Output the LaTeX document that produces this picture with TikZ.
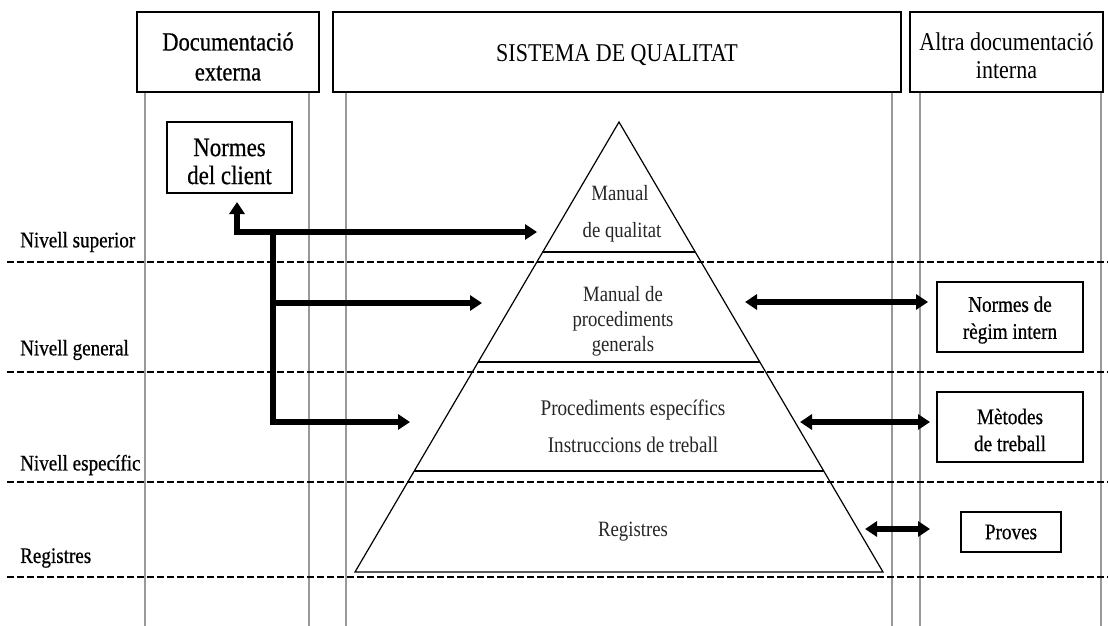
\documentclass[tikz,border=0pt]{standalone}
\usepackage{fontspec}
\setmainfont{Liberation Serif}[FakeStretch=0.86]
\newfontfamily\heavyserif{Liberation Serif}[FakeStretch=0.86,FakeBold=0.6]
\usetikzlibrary{arrows.meta,calc}

\begin{document}
\begin{tikzpicture}[x=1pt,y=-1pt,
  frame/.style={draw=black,line width=1.4pt,inner sep=0pt},
  caption/.style={inner sep=0pt,align=center},
  headfont/.style={font=\heavyserif\fontsize{26.2}{30}\selectfont},
  boxfont/.style={font=\heavyserif\fontsize{22.3}{27}\selectfont},
  lab/.style={anchor=west,inner sep=0pt,font=\heavyserif\fontsize{22.2}{24}\selectfont},
  pyrtext/.style={inner sep=0pt,align=center,text=black!85},
  lane/.style={draw=black!40,line width=1.6pt},
  levelsep/.style={draw=black,line width=2.6pt,dash pattern=on 7pt off 3pt},
  pyr/.style={draw=black,line width=1.2pt,line join=miter},
  flow/.style={line width=5.2pt,line join=miter,-{Triangle[length=12pt,width=15pt]}},
  flowboth/.style={line width=5.2pt,line join=miter,{Triangle[length=12pt,width=15pt]}-{Triangle[length=12pt,width=15pt]}}]

\useasboundingbox (0,0) rectangle (1108,626);

% column lanes
\foreach \xx in {145,309,346,892,920,1101}
  \draw[lane] (\xx,92) -- (\xx,626);

% header boxes
\node[frame,minimum width=182pt,minimum height=80pt] (ext) at (228,52) {};
\node[caption,headfont] (extT) at ($(ext.center)+(0,4.5)$) {Documentació\\externa};
\node[frame,minimum width=568pt,minimum height=80pt] (sq) at (617,52) {};
\node[caption,font=\fontsize{25.6}{30}\selectfont] (sqT) at ($(sq.center)+(0,3)$) {SISTEMA DE QUALITAT};
\node[frame,minimum width=193pt,minimum height=80pt] (intdoc) at (1006.5,52) {};
\node[caption,font=\fontsize{25.6}{28}\selectfont] (intdocT) at ($(intdoc.center)+(0,3.5)$) {Altra documentació\\interna};

% level separators
\foreach \yy in {262,372,482,577}
  \draw[levelsep] (7,\yy) -- (1108,\yy);

% level labels
\node[lab] (lsup) at (20,242) {Nivell superior};
\node[lab] (lgen) at (20,350) {Nivell general};
\node[lab] (lesp) at (20,465) {Nivell específic};
\node[lab] (lreg) at (20,558) {Registres};

% pyramid
\coordinate (apex) at (619,122);
\coordinate (bl) at (355,572);
\coordinate (br) at (883,572);
\draw[pyr] (apex) -- (bl) -- (br) -- cycle;
\foreach \t in {0.2889,0.5333,0.7756}
  \draw[pyr] ($(apex)!\t!(bl)$) -- ($(apex)!\t!(br)$);

% pyramid texts
\node[pyrtext,font=\fontsize{21.8}{24}\selectfont] (mq1) at (620,193) {Manual};
\node[pyrtext,font=\fontsize{21.8}{24}\selectfont] (mq2) at (622,232) {de qualitat};
\node[pyrtext,font=\fontsize{21.8}{25}\selectfont] (mpg) at (623,321) {Manual de\\procediments\\generals};
\node[pyrtext,font=\fontsize{22.3}{37}\selectfont] (pe) at (633,426) {Procediments específics\\Instruccions de treball};
\node[pyrtext,font=\fontsize{21.8}{24}\selectfont] (reg) at (633,532) {Registres};

% outside boxes
\node[frame,minimum width=125pt,minimum height=71pt] (client) at (229.5,157.5) {};
\node[caption,font=\heavyserif\fontsize{26.6}{28}\selectfont] (clientT) at ($(client.center)+(0,4)$) {Normes\\del client};
\node[frame,minimum width=146pt,minimum height=70pt] (nri) at (1010,317) {};
\node[caption,boxfont] (nriT) at ($(nri.center)+(0,3)$) {Normes de\\règim intern};
\node[frame,minimum width=146pt,minimum height=70pt] (met) at (1010,427) {};
\node[caption,boxfont] (metT) at ($(met.center)+(0,3)$) {Mètodes\\de treball};
\node[frame,minimum width=100pt,minimum height=40pt] (prov) at (1011,532) {};
\node[caption,boxfont] (provT) at (prov.center) {Proves};

% flows from the client norms
\coordinate (up) at (237,202);
\coordinate (corner) at (237,232);
\coordinate (split) at (273,232);
\coordinate (toMQ) at (537,232);
\coordinate (toMPG) at (482,303);
\coordinate (toPE) at (410,422);
\draw[flowboth] (up) -- (corner) -- (toMQ);
\draw[line width=5.2pt,line join=miter] (split) -- (split |- toPE);
\draw[flow] ([xshift=-2.6pt]split |- toPE) -- (toPE);
\draw[flow] (split |- toMPG) -- (toMPG);

% links to the internal documents
\coordinate (gA) at (745,302);
\coordinate (gB) at (928,302);
\coordinate (sA) at (800,422);
\coordinate (sB) at (930,422);
\coordinate (rA) at (865,529);
\coordinate (rB) at (930,529);
\draw[flowboth] (gA) -- (gB);
\draw[flowboth] (sA) -- (sB);
\draw[flowboth] (rA) -- (rB);

\end{tikzpicture}
\end{document}
